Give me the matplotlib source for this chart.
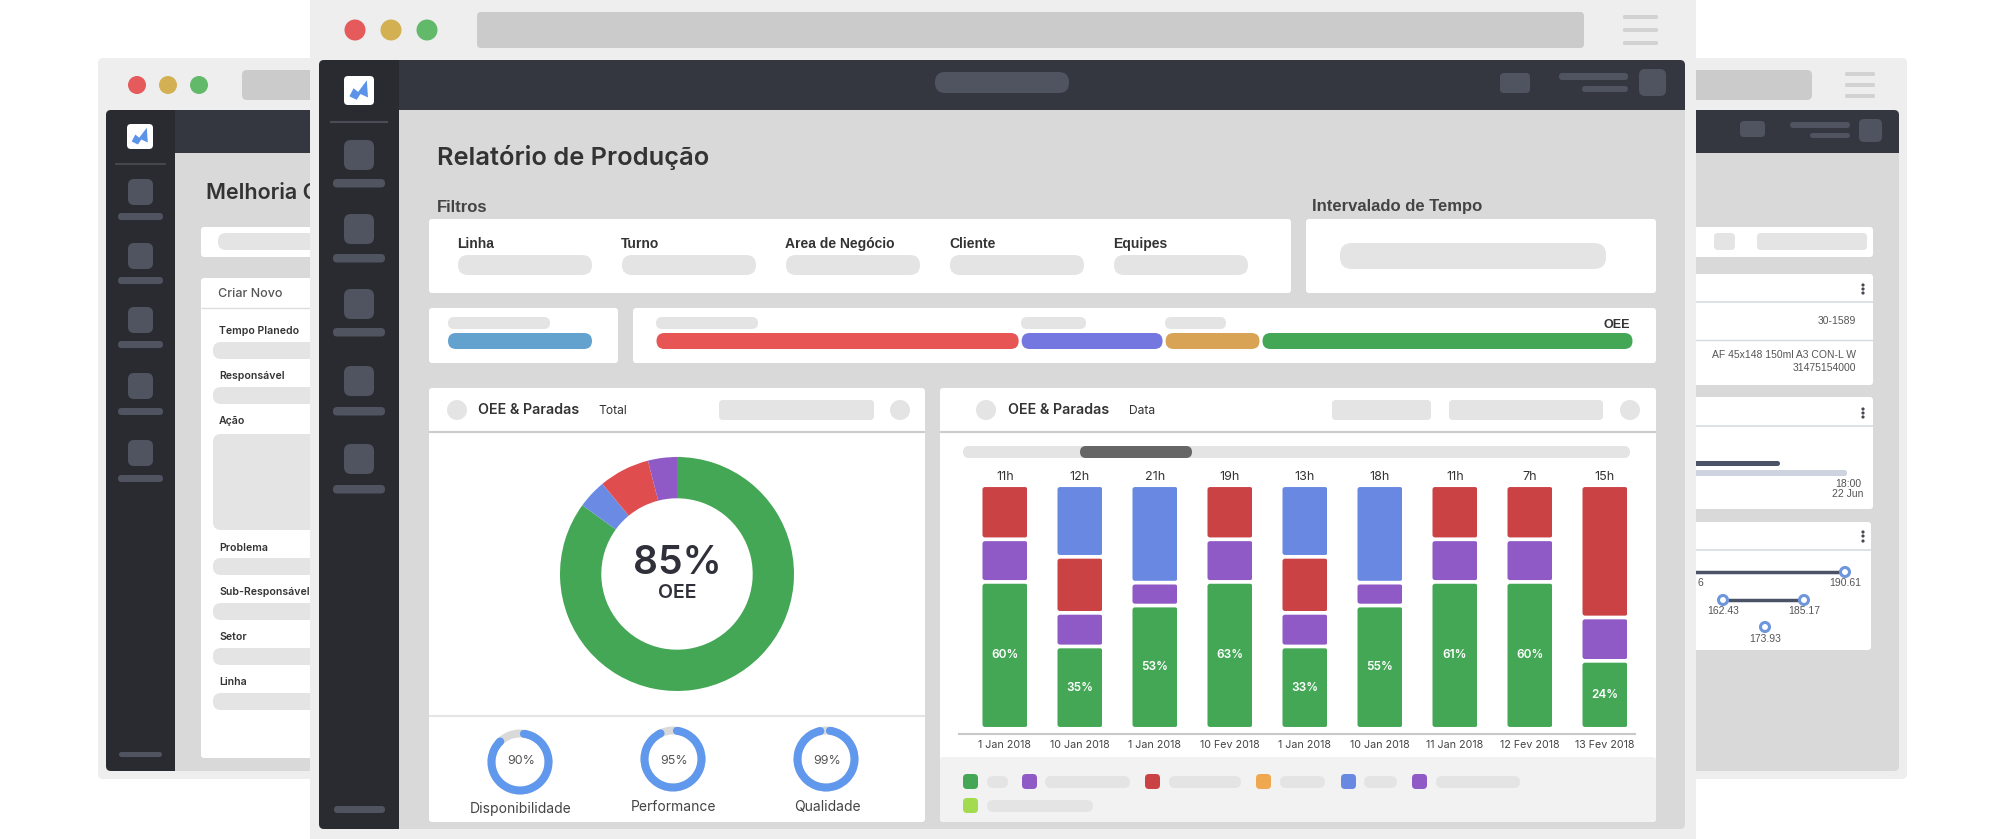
from math import cos, radians, sin

from matplotlib import pyplot as plt
from matplotlib.patches import Circle, FancyBboxPatch, Polygon
from matplotlib.transforms import IdentityTransform

W, H = 2005, 839
UI_FONT = "Inter"
TEXT_FONT = "Liberation Sans"

# stacked bars, share of the full column height
dates = ["1 Jan 2018", "10 Jan 2018", "1 Jan 2018", "10 Fev 2018", "1 Jan 2018",
         "10 Jan 2018", "11 Jan 2018", "12 Fev 2018", "13 Fev 2018"]
hours = ["11h", "12h", "21h", "19h", "13h", "18h", "11h", "7h", "15h"]
oee_labels = ["60%", "35%", "53%", "63%", "33%", "55%", "61%", "60%", "24%"]
green_values = [60.3, 33.8, 50.6, 60.3, 33.8, 50.6, 60.3, 60.3, 27.9]
purple_values = [17.5, 13.8, 9.4, 17.5, 13.8, 9.4, 17.5, 17.5, 17.8]
red_values = [22.2, 23.0, 0, 22.2, 23.0, 0, 22.2, 22.2, 54.3]
blue_values = [0, 29.4, 40.0, 0, 29.4, 40.0, 0, 0, 0]

# main donut, clockwise from the top
donut_values = [85, 4, 7, 4]
donut_colors = ["#43A755", "#6B8AE3", "#E04D4F", "#905AC6"]

# small gauges
gauge_names = ["Disponibilidade", "Performance", "Qualidade"]
gauge_values = [90, 95, 99]

# horizontal summary bars
time_share = [37.3, 14.7, 9.9, 38.1]
time_colors = ["#E85555", "#7477DF", "#D8A355", "#43A755"]

filter_names = ["Linha", "Turno", "Area de Negócio", "Cliente", "Equipes"]
form_names = ["Tempo Planedo", "Responsável", "Ação", "Problema",
              "Sub-Responsável", "Setor", "Linha"]

GREEN, PURPLE, RED, BLUE = "#43A755", "#905AC6", "#CB4245", "#6888E2"
CHROME, ADDRESS = "#EEEEEE", "#CBCBCB"
SIDE, TOP, CONTENT = "#2A2B30", "#343740", "#D9D9D9"
ICON, PILL = "#4F5460", "#E4E4E4"

fig = plt.figure(figsize=(W / 100, H / 100), dpi=100, facecolor="white")
ax = fig.add_axes([0, 0, 1, 1])
ax.set_xlim(0, W)
ax.set_ylim(H, 0)
ax.axis("off")


def box(x0, y0, x1, y1, color, r=3):
    """Rounded rectangle given in image pixels."""
    ax.add_patch(FancyBboxPatch((x0, y0), x1 - x0, y1 - y0, linewidth=0,
                                boxstyle=f"round,pad=0,rounding_size={r}",
                                facecolor=color, zorder=2))


def dot(x, y, r, color, edge=None, lw=0):
    ax.add_patch(Circle((x, y), r, facecolor=color, edgecolor=edge,
                        linewidth=lw, zorder=2))


def hline(x0, x1, y, color, lw=1.0):
    ax.plot([x0, x1], [y, y], color=color, linewidth=lw, zorder=2,
            solid_capstyle="butt")


def label(x, y, text, size, color="#333333", weight="normal", ha="left",
          family=UI_FONT):
    ax.text(x, y, text, fontsize=size, color=color, fontweight=weight, ha=ha,
            va="center", family=family, zorder=2)


def inset(x0, y0, x1, y1):
    """Axes placed by image pixels."""
    new_ax = fig.add_axes([x0 / W, 1 - y1 / H, (x1 - x0) / W, (y1 - y0) / H])
    new_ax.patch.set_alpha(0)
    return new_ax


def round_bar(rect, r, gap_x=0.0, gap_y=0.0):
    """Clip a bar to a rounded box, leaving a small gap to its neighbours."""
    ext = rect.get_window_extent()
    if ext.width <= gap_x or ext.height <= gap_y:
        rect.set_visible(False)
        return
    clip = FancyBboxPatch((ext.x0 + gap_x / 2, ext.y0 + gap_y / 2),
                          ext.width - gap_x, ext.height - gap_y,
                          boxstyle=f"round,pad=0,rounding_size={r}",
                          transform=IdentityTransform())
    rect.set_clip_path(clip)


def logo(x0, y0, x1, y1):
    box(x0, y0, x1, y1, "white", r=4)
    w, h = x1 - x0, y1 - y0
    shape = [(0.18, 0.70), (0.32, 0.42), (0.47, 0.55), (0.76, 0.15),
             (0.80, 0.74), (0.55, 0.62), (0.42, 0.82)]
    ax.add_patch(Polygon([(x0 + a * w, y0 + b * h) for a, b in shape],
                         facecolor="#5B93E8", edgecolor="none", zorder=2))


def hamburger(x0, x1, rows):
    for y in rows:
        box(x0, y - 2, x1, y + 2, "#D2D2D2", r=1.5)


def kebab(x, rows):
    for y in rows:
        dot(x, y, 1.6, "#45494F")


def app_frame(x0, y0, x1, y1, side_x, top_y):
    """Content area with the dark top bar and sidebar."""
    box(x0, y0, x1, y1, CONTENT, r=5)
    box(side_x - 20, y0, x1, top_y, TOP, r=5)
    box(side_x - 20, y0 + 20, x1, top_y, TOP, r=0)
    box(x0, y0, side_x, y1, SIDE, r=5)
    box(side_x - 20, y0, side_x, y1, SIDE, r=0)


def back_window():
    box(98, 58, 1907, 779, CHROME, r=5)
    for x, color in zip([137, 168, 199], ["#E55A5A", "#D3B052", "#62B96A"]):
        dot(x, 85, 9, color)
    box(242, 70, 1812, 100, ADDRESS, r=5)
    hamburger(1845, 1875, [74, 85, 96])

    app_frame(106, 110, 1899, 771, 175, 153)
    logo(127, 124, 153, 149)
    hline(115, 166, 164, "#4A4D55", 1.2)
    icon_tops = [179, 243, 307, 373, 440]
    pill_tops = [213, 277, 341, 408, 475]
    for top, pill in zip(icon_tops, pill_tops):
        box(128, top, 153, top + 26, ICON, r=6)
        box(118, pill, 163, pill + 7, ICON, r=3.5)
    box(119, 752, 162, 757, ICON, r=2.5)
    box(1740, 121, 1765, 137, ICON, r=4)
    box(1790, 122, 1850, 128, ICON, r=3)
    box(1810, 133, 1850, 138, ICON, r=2.5)
    box(1859, 119, 1882, 142, ICON, r=5)

    label(206, 193, "Melhoria Contínua", 15.5, "#333333", "semibold")
    box(201, 227, 1873, 257, "white")
    box(218, 233, 400, 250, PILL, r=8)
    box(1714, 233, 1735, 250, PILL, r=4)
    box(1757, 233, 1867, 250, PILL, r=4)

    box(201, 278, 400, 758, "white")
    label(218, 294, "Criar Novo", 9, "#555555", "medium")
    hline(201, 320, 308, "#DDDDDD")
    label_rows = [331, 376, 421, 548, 592, 637, 682]
    field_rows = [(342, 359), (387, 404), (434, 530), (558, 575),
                  (603, 620), (648, 665), (693, 710)]
    for name, y, (top, bottom) in zip(form_names, label_rows, field_rows):
        label(219, y, name, 7.6, "#333333", "semibold")
        box(213, top, 330, bottom, PILL, r=8)

    # cards on the right of the back window
    box(1600, 274, 1873, 385, "white")
    hline(1600, 1873, 302, "#D5DAE3", 1.2)
    hline(1600, 1873, 340, "#D5DAE3", 1.0)
    kebab(1863, [285, 289, 293])
    label(1856, 321, "30-1589", 7.5, "#555555", ha="right", family=TEXT_FONT)
    label(1856, 355, "AF 45x148 150ml A3 CON-L W", 7.5, "#555555", ha="right",
          family=TEXT_FONT)
    label(1856, 368, "31475154000", 7.5, "#555555", ha="right", family=TEXT_FONT)

    box(1600, 397, 1873, 509, "white")
    hline(1600, 1873, 426, "#D5DAE3", 1.2)
    kebab(1863, [409, 413, 417])
    box(1680, 470, 1847, 476, "#CDD3DF", r=2.5)
    box(1680, 461, 1780, 466, "#4B5366", r=2.5)
    label(1848, 484, "18:00", 7.5, "#555555", ha="center", family=TEXT_FONT)
    label(1848, 494, "22 Jun", 7.5, "#555555", ha="center", family=TEXT_FONT)

    box(1600, 522, 1871, 650, "white")
    hline(1600, 1871, 550, "#D5DAE3", 1.2)
    kebab(1863, [532, 536, 541])
    hline(1680, 1845, 572, "#4B5366", 2.5)
    hline(1723, 1804, 600, "#4B5366", 2.5)
    for x, y, text in [(1845, 572, "190.61"), (1723, 600, "162.43"),
                       (1804, 600, "185.17"), (1765, 627, "173.93")]:
        dot(x, y, 4.5, "white", "#6E96DC", 2.2)
        label(x, y + 11.5, text, 7.5, "#555555", ha="center", family=TEXT_FONT)
    label(1698, 583, "6", 7.5, "#555555", family=TEXT_FONT)


def main_shell():
    box(310, -6, 1696, 845, CHROME, r=5)
    for x, color in zip([355, 391, 427], ["#E55A5A", "#D3B052", "#62B96A"]):
        dot(x, 30, 10.5, color)
    box(477, 12, 1584, 48, ADDRESS, r=4)
    hamburger(1623, 1658, [17, 30, 43])

    app_frame(319, 60, 1685, 829, 399, 110)
    logo(344, 76, 374, 105)
    hline(330, 388, 122, "#4A4D55", 1.5)
    icon_tops = [140, 214, 289, 366, 444]
    pill_tops = [179, 254, 328, 407, 485]
    for top, pill in zip(icon_tops, pill_tops):
        box(344, top, 374, top + 30, ICON, r=7)
        box(333, pill, 385, pill + 8.5, ICON, r=4)
    box(334, 806, 385, 813, ICON, r=3.5)
    box(935, 72, 1069, 93, ICON, r=10)
    box(1500, 73, 1530, 93, ICON, r=4)
    box(1559, 73, 1628, 80, ICON, r=3)
    box(1582, 86, 1628, 92, ICON, r=3)
    box(1639, 69, 1666, 96, ICON, r=6)


def filters():
    label(437, 157, "Relatório de Produção", 18.3, "#333333", "semibold")
    label(437, 207, "Filtros", 12, "#444444", "bold", family=TEXT_FONT)
    label(1312, 207, "Intervalado de Tempo", 12, "#444444", "bold",
          family=TEXT_FONT)

    box(429, 219, 1291, 293, "white")
    box(1306, 219, 1656, 293, "white")
    for x, name in zip([457, 621, 785, 949, 1113], filter_names):
        label(x, 244, name, 10, "#333333", "bold", family=TEXT_FONT)
        box(x + 1, 255, x + 135, 275, PILL, r=10)
    box(1340, 243, 1606, 269, PILL, r=12)

    box(429, 308, 618, 363, "white")
    box(633, 308, 1656, 363, "white")
    box(448, 317, 550, 329, PILL, r=6)
    for x0, x1 in [(656, 758), (1021, 1086), (1165, 1226)]:
        box(x0, 317, x1, 329, PILL, r=6)
    label(1617, 325, "OEE", 9, "#333333", "bold", ha="center", family=TEXT_FONT)

    hax = inset(448, 333, 592, 349)
    bar = hax.barh([0], [100], height=1, color="#63A2CF")
    hax.set_xlim(0, 100)
    hax.set_ylim(-0.5, 0.5)
    hax.axis("off")
    round_bar(bar[0], 8)

    sax = inset(655, 333, 1634, 349)
    left = 0
    for value, color in zip(time_share, time_colors):
        bar = sax.barh([0], [value], left=left, height=1, color=color)
        left += value
        sax.set_xlim(0, 100)
        sax.set_ylim(-0.5, 0.5)
        round_bar(bar[0], 8, gap_x=3)
    sax.axis("off")


def panel_header(x0, x1, title_x, tag_x, tag, circle_x, end_circle_x, pills):
    box(x0, 388, x1, 822, "white")
    hline(x0, x1, 432, "#CCCCCC", 1.5)
    dot(circle_x, 410, 10, PILL)
    dot(end_circle_x, 410, 10, PILL)
    label(title_x, 410, "OEE & Paradas", 10.3, "#333333", "semibold")
    label(tag_x, 411, tag, 8.7, "#333333")
    for p0, p1 in pills:
        box(p0, 400, p1, 420, PILL, r=4)


def gauge(cx, cy, value):
    """Ring with round ends, filled clockwise from the top."""
    r = 32.5
    width = 8 / r
    gax = inset(cx - r, cy - r, cx + r, cy + r)
    gax.pie([1], colors=["#D9D9D9"], radius=1,
            wedgeprops={"width": width, "linewidth": 0})
    wedges, _ = gax.pie([value, 100 - value], colors=["#5F98EC", "none"],
                        startangle=90, counterclock=False, radius=1,
                        wedgeprops={"width": width, "linewidth": 0})
    gax.set_xlim(-1, 1)
    gax.set_ylim(-1, 1)

    # pull the ends in and cap them, the round end stays on the value
    cap_angle = 8
    arc = wedges[0]
    arc.set_theta1(arc.theta1 + cap_angle)
    arc.set_theta2(arc.theta2 - cap_angle)
    mid = 1 - width / 2
    for angle in [arc.theta1, arc.theta2]:
        centre = (mid * cos(radians(angle)), mid * sin(radians(angle)))
        gax.add_patch(Circle(centre, width / 2, facecolor="#5F98EC", linewidth=0))


def left_panel():
    panel_header(429, 925, 478, 598, "Total", 457, 900, [(719, 874)])
    hline(429, 925, 716, "#E5E5E5", 1.5)

    dax = inset(560, 457, 794, 691)
    dax.pie(donut_values, colors=donut_colors, startangle=90, counterclock=False,
            radius=1, wedgeprops={"width": 0.353, "linewidth": 0})
    dax.set_xlim(-1, 1)
    dax.set_ylim(-1, 1)
    label(677, 563, "85%", 28, "#2F3039", "semibold", ha="center")
    label(677, 593, "OEE", 14, "#2F3039", "semibold", ha="center")

    centers = [(520, 762), (673, 759), (826, 759)]
    text_x = [521, 674, 827]
    name_y = [809, 807, 807]
    for (cx, cy), value, name, tx, ny in zip(centers, gauge_values, gauge_names,
                                             text_x, name_y):
        gauge(cx, cy, value)
        label(tx, 761, f"{value}%", 9, "#555555", ha="center")
        label(cx + 1, ny, name, 10, "#444444", ha="center")


def right_panel():
    panel_header(940, 1656, 1008, 1129, "Data", 986, 1630,
                 [(1332, 1431), (1449, 1603)])
    box(940, 757, 1656, 822, "#F2F2F2", r=3)
    box(963, 446, 1630, 458, PILL, r=6)
    box(1080, 446, 1192, 458, "#666666", r=6)

    positions = list(range(len(dates)))
    bax = inset(959, 485.2, 1635, 734)
    bottoms = [0.0] * len(dates)
    stacks = []
    for values, color in [(green_values, GREEN), (purple_values, PURPLE),
                          (red_values, RED), (blue_values, BLUE)]:
        stacks.append(bax.bar(positions, values, width=0.6, bottom=bottoms,
                              color=color))
        bottoms = [b + v for b, v in zip(bottoms, values)]

    bax.set_xlim(-0.613, 8.4)
    bax.set_ylim(-2.13, 100)
    for stack in stacks:
        for rect in stack:
            round_bar(rect, 2.5, gap_y=3.7)

    for spine in ["top", "left", "right"]:
        bax.spines[spine].set_visible(False)
    bax.spines["bottom"].set_color("#C8C8C8")
    bax.spines["bottom"].set_linewidth(1.5)
    bax.set_yticks([])
    bax.set_xticks(positions, dates, fontsize=7.7, color="#444444", family=UI_FONT)
    bax.tick_params(axis="x", length=0, pad=4)

    for pos, hour, text, green in zip(positions, hours, oee_labels, green_values):
        bax.text(pos, 103.4, hour, ha="center", va="center", fontsize=9,
                 color="#333333", family=UI_FONT, clip_on=False)
        bax.text(pos, green / 2, text, ha="center", va="center", fontsize=8.5,
                 color="white", fontweight="semibold", family=UI_FONT)

    chips = [(963, GREEN, 987, 1008), (1022, PURPLE, 1045, 1130),
             (1145, RED, 1169, 1241), (1256, "#EFA850", 1280, 1325),
             (1341, BLUE, 1364, 1397), (1412, PURPLE, 1436, 1520)]
    for x, color, p0, p1 in chips:
        box(x, 774, x + 15, 789, color, r=4)
        box(p0, 776, p1, 788, PILL, r=6)
    box(963, 798, 978, 813, "#A3DB4E", r=4)
    box(987, 800, 1093, 812, PILL, r=6)


def main():
    back_window()
    main_shell()
    filters()
    left_panel()
    right_panel()
    fig.savefig("out.png", dpi=100, facecolor="white")


if __name__ == "__main__":
    main()
